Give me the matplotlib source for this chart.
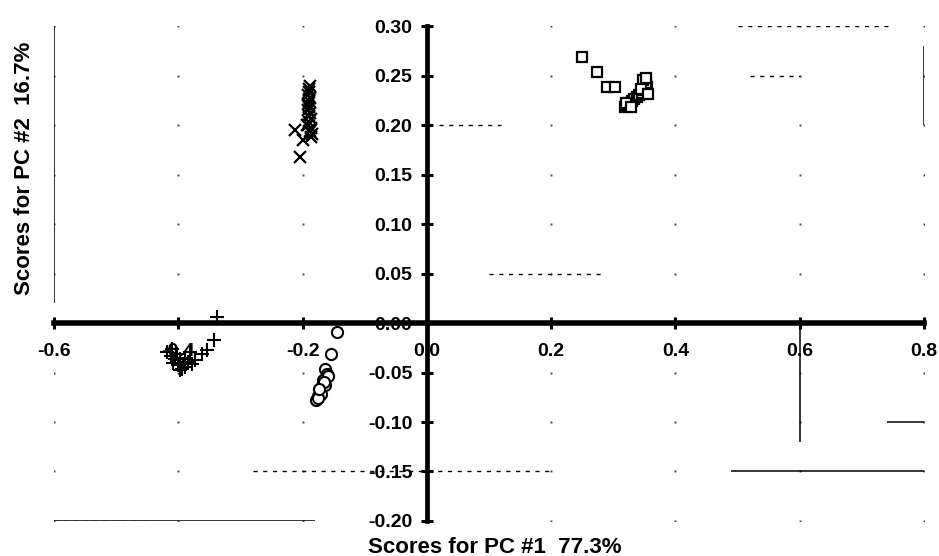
import numpy as np
import matplotlib.pyplot as plt

plt.rcParams['font.family'] = ['Liberation Sans', 'DejaVu Sans']

# PCA scores
cross_x = [-0.188, -0.190, -0.189, -0.191, -0.188, -0.190, -0.192, -0.189, -0.191,
           -0.188, -0.190, -0.187, -0.189, -0.191, -0.186, -0.188, -0.185, -0.187,
           -0.193, -0.212, -0.199, -0.204]
cross_y = [0.240, 0.236, 0.233, 0.230, 0.227, 0.224, 0.221, 0.218, 0.215,
           0.212, 0.209, 0.206, 0.203, 0.200, 0.197, 0.194, 0.191, 0.188,
           0.200, 0.195, 0.185, 0.168]

square_x = [0.249, 0.273, 0.290, 0.302, 0.318, 0.322, 0.326, 0.330, 0.334,
            0.338, 0.342, 0.346, 0.350, 0.354, 0.352, 0.348, 0.353, 0.345,
            0.356, 0.320, 0.328]
square_y = [0.269, 0.254, 0.239, 0.239, 0.218, 0.220, 0.222, 0.224, 0.226,
            0.228, 0.230, 0.232, 0.235, 0.238, 0.243, 0.246, 0.248, 0.236,
            0.231, 0.222, 0.218]

plus_x = [-0.337, -0.343, -0.354, -0.362, -0.373, -0.378, -0.418, -0.410, -0.402,
          -0.397, -0.392, -0.389, -0.384, -0.397, -0.405, -0.381, -0.394, -0.412,
          -0.400, -0.390, -0.408]
plus_y = [0.006, -0.017, -0.027, -0.031, -0.037, -0.041, -0.029, -0.026, -0.031,
          -0.036, -0.041, -0.044, -0.039, -0.047, -0.036, -0.029, -0.046, -0.033,
          -0.042, -0.035, -0.040]

circle_x = [-0.145, -0.155, -0.164, -0.161, -0.167, -0.169, -0.172, -0.175, -0.178,
            -0.159, -0.164, -0.170, -0.176, -0.166, -0.173]
circle_y = [-0.009, -0.031, -0.046, -0.051, -0.058, -0.064, -0.069, -0.074, -0.078,
            -0.054, -0.063, -0.072, -0.076, -0.060, -0.067]

x_ticks = [-0.6, -0.4, -0.2, 0.0, 0.2, 0.4, 0.6, 0.8]
y_ticks = [-0.20, -0.15, -0.10, -0.05, 0.00, 0.05, 0.10, 0.15, 0.20, 0.25, 0.30]

# leftover pieces of the gridlines in the scan
solid_v = [(-0.6, 0.02, 0.30), (0.6, -0.12, 0.0), (0.8, 0.20, 0.28)]
solid_h = [(-0.20, -0.6, -0.18), (-0.15, 0.49, 0.80), (-0.10, 0.74, 0.80)]
dash_h = [(0.30, 0.50, 0.75), (0.25, 0.52, 0.60), (0.20, 0.02, 0.12),
          (0.05, 0.10, 0.28), (-0.15, -0.28, 0.20), (-0.20, -0.60, -0.45)]

fig = plt.figure(figsize=(9.39, 5.56), dpi=100)
ax = fig.add_axes([0.0575, 0.063, 0.9266, 0.890])

ax.set_xlim(-0.6, 0.8)
ax.set_ylim(-0.2, 0.3)

# grid survives mostly as dots at the crossings
gx, gy = np.meshgrid(x_ticks, y_ticks)
ax.plot(gx.ravel(), gy.ravel(), linestyle='none', marker='s', ms=1.4,
        color='0.25', mew=0, zorder=0)
for x, y0, y1 in solid_v:
    ax.vlines(x, y0, y1, color='black', lw=1.1, zorder=1)
for y, x0, x1 in solid_h:
    ax.hlines(y, x0, x1, color='black', lw=1.1, zorder=1)
for y, x0, x1 in dash_h:
    ax.hlines(y, x0, x1, color='black', lw=1.0, linestyles=(0, (3, 4)), zorder=1)

ax.plot(cross_x, cross_y, linestyle='none', marker='x', ms=8, mew=1.6, color='black', zorder=3)
ax.plot(square_x, square_y, linestyle='none', marker='s', ms=7, mew=1.6,
        mfc='white', mec='black', zorder=3)
ax.plot(plus_x, plus_y, linestyle='none', marker='+', ms=10, mew=1.5, color='black', zorder=3)
ax.plot(circle_x, circle_y, linestyle='none', marker='o', ms=8, mew=1.5,
        mfc='white', mec='black', zorder=3)

# axes through the origin
ax.spines['left'].set_position(('data', 0))
ax.spines['bottom'].set_position(('data', 0))
ax.spines['right'].set_visible(False)
ax.spines['top'].set_visible(False)
ax.spines['left'].set_linewidth(3.4)
ax.spines['bottom'].set_linewidth(4.0)

ax.set_xticks(x_ticks)
ax.set_xticklabels(['%.1f' % v for v in x_ticks])
ax.set_yticks(y_ticks)
ax.set_yticklabels(['%.2f' % v for v in y_ticks])
ax.tick_params(axis='both', direction='inout', length=9, width=2.2, labelsize=14)
ax.tick_params(axis='x', pad=10)
ax.tick_params(axis='y', pad=6)
for lab in ax.get_xticklabels() + ax.get_yticklabels():
    lab.set_fontweight('bold')

fig.text(0.527, 0.016, 'Scores for PC #1  77.3%', ha='center', va='center',
         fontsize=16, fontweight='bold')
fig.text(0.026, 0.698, 'Scores for PC #2  16.7%', ha='center', va='center',
         rotation=90, fontsize=16, fontweight='bold')

fig.savefig('out.png', dpi=100)
